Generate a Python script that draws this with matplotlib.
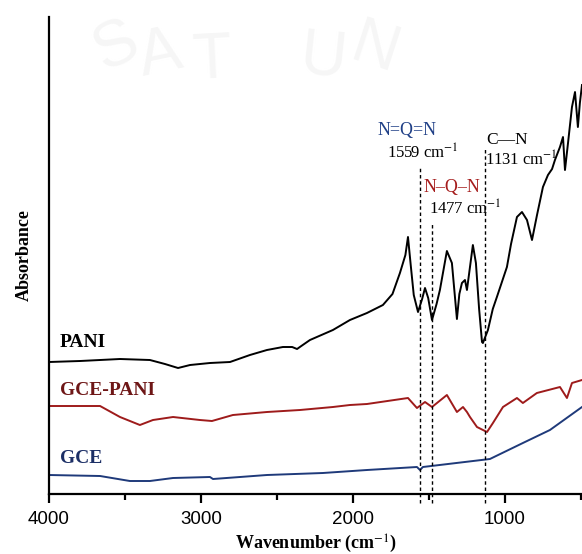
import matplotlib
matplotlib.use("Agg")
import matplotlib.pyplot as plt
from matplotlib.ticker import MultipleLocator

plt.rcParams["mathtext.fontset"] = "stix"

# spectra (wavenumber, offset absorbance in arbitrary units)
pani_wn = [4000, 3796, 3533, 3336, 3237, 3151, 3072, 2941, 2809, 2678, 2566, 2461,
           2400, 2368, 2340, 2283, 2132, 2020, 1908, 1803, 1740, 1691, 1655, 1638, 1620,
           1600, 1572, 1545, 1526, 1505, 1480, 1450, 1428, 1382, 1349, 1316, 1300, 1283, 1263, 1250, 1211,
           1191, 1170, 1151, 1145, 1112, 1080, 1053, 1020, 987, 960, 921, 888, 855, 822, 789, 750, 717,
           690, 671, 638, 618, 605, 585, 559, 539, 520, 507, 493]
pani_ab = [132, 133, 135, 134, 130, 126, 129, 131, 132, 139, 144, 147,
           147, 145, 148, 154, 164, 174, 181, 189, 200, 221, 239, 257, 229,
           199, 182, 195, 206, 196, 174, 190, 204, 243, 231, 175, 200, 211, 214, 204, 249,
           231, 185, 152, 151, 164, 185, 197, 212, 227, 250, 277, 282, 274, 254, 279, 307, 319,
           325, 334, 347, 357, 324, 351, 387, 402, 367, 391, 409]

gp_wn = [4000, 3796, 3664, 3533, 3402, 3316, 3184, 3007, 2928, 2790, 2566, 2349,
         2132, 2020, 1908, 1638, 1579, 1526, 1480, 1382, 1316, 1276, 1250, 1230, 1184,
         1118, 1079, 1013, 921, 882, 790, 638, 592, 559, 493]
gp_ab = [88, 88, 88, 77, 69, 74, 77, 74, 73, 79, 82, 84,
         87, 89, 90, 96, 86, 92, 87, 99, 82, 87, 82, 77, 67,
         62, 71, 87, 96, 91, 101, 107, 96, 111, 114]

gce_wn = [4000, 3664, 3468, 3336, 3184, 2941, 2921, 2566, 2198, 1908, 1579, 1559,
          1540, 1099, 882, 704, 493]
gce_ab = [19, 18, 13, 13, 16, 17, 15, 19, 21, 24, 27, 24,
          27, 35, 51, 64, 87]

peaks = [1559, 1477, 1131]
peak_top = [328, 272, 346]

fig = plt.figure(figsize=(5.82, 5.54), dpi=100)
ax = fig.add_axes([0.0842, 0.1083, 0.9158, 0.861])

# faint watermark in the background
for ch, x, y, r in [("S", 0.20, 0.915, 25), ("A", 0.275, 0.90, 12), ("T", 0.365, 0.89, 3),
                    ("U", 0.555, 0.895, -6), ("N", 0.645, 0.91, -18)]:
    fig.text(x, y, ch, fontsize=46, color="#f6f6f6", ha="center", va="center",
             rotation=r, family="Liberation Sans", zorder=0)

ax.plot(pani_wn, pani_ab, color="black", lw=1.4)
ax.plot(gp_wn, gp_ab, color="#9e1b1b", lw=1.4)
ax.plot(gce_wn, gce_ab, color="#1f3a7a", lw=1.4)

for p, t in zip(peaks, peak_top):
    ax.plot([p, p], [-9, t], color="black", lw=1.0, ls=(0, (2.5, 2)), clip_on=False)

serif = "Liberation Serif"
ax.text(1645, 364, "N=Q=N", color="#1f3f86", fontsize=13, ha="center", va="center", family=serif)
ax.text(1539, 341, "1559 cm$^{-1}$", color="black", fontsize=12, ha="center", va="center", family=serif)
ax.text(1349, 307, "N\u2013Q\u2013N", color="#a51c1c", fontsize=13, ha="center", va="center", family=serif)
ax.text(1263, 285, "1477 cm$^{-1}$", color="black", fontsize=12, ha="center", va="center", family=serif)
ax.text(987, 354, "C\u2014N", color="black", fontsize=12.5, ha="center", va="center", family=serif)
ax.text(895, 334, "1131 cm$^{-1}$", color="black", fontsize=12, ha="center", va="center", family=serif)

ax.text(3928, 152, "PANI", color="black", fontsize=14, fontweight="bold", va="center", family=serif)
ax.text(3928, 104, "GCE-PANI", color="#6e1616", fontsize=14, fontweight="bold", va="center", family=serif)
ax.text(3928, 36, "GCE", color="#1c2f66", fontsize=14, fontweight="bold", va="center", family=serif)

ax.set_xlim(4000, 493)
ax.set_ylim(0, 477)
ax.xaxis.set_major_locator(MultipleLocator(1000))
ax.xaxis.set_minor_locator(MultipleLocator(500))
ax.set_yticks([])
ax.spines["top"].set_visible(False)
ax.spines["right"].set_visible(False)
ax.spines["left"].set_linewidth(1.6)
ax.spines["bottom"].set_linewidth(1.6)
ax.tick_params(axis="x", which="major", direction="out", length=6.5, width=1.6, pad=6,
               labelsize=13.5)
ax.tick_params(axis="x", which="minor", direction="out", length=4, width=1.6)
for lab in ax.get_xticklabels():
    lab.set_family("Liberation Sans")

ax.set_xlabel("Wavenumber (cm$^{-1}$)", fontsize=13, fontweight="bold", family=serif, labelpad=3)
ax.set_ylabel("Absorbance", fontsize=13, fontweight="bold", family=serif, labelpad=12)
ax.patch.set_alpha(0)

fig.savefig("out.png", dpi=100)
